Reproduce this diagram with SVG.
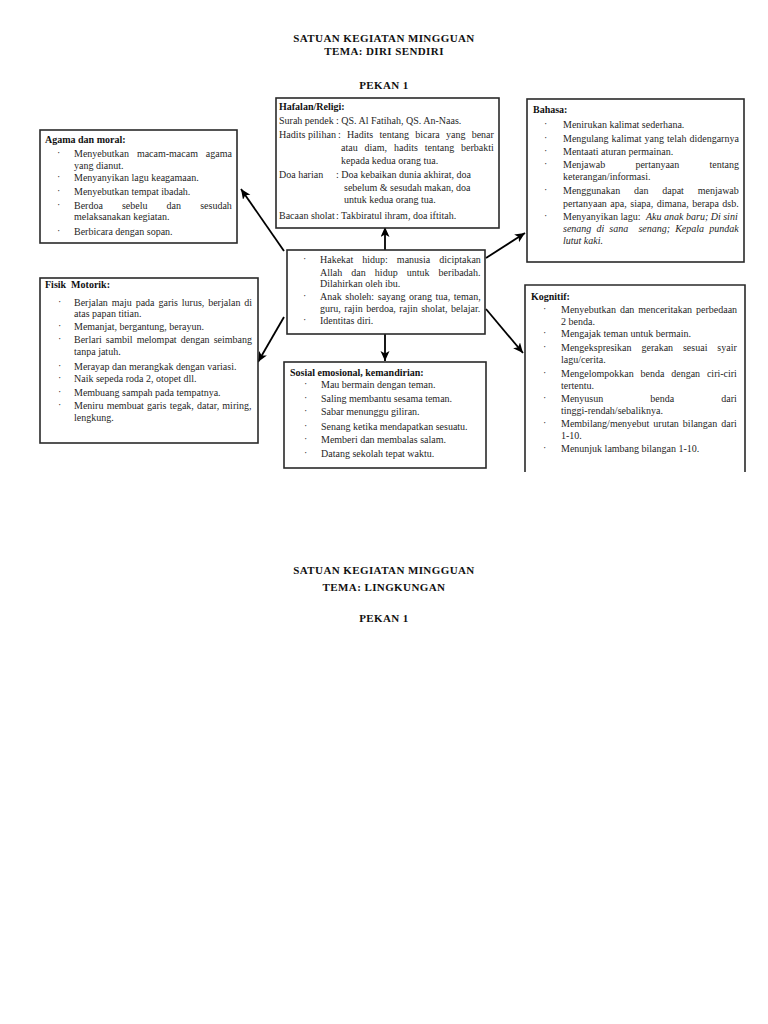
<svg xmlns="http://www.w3.org/2000/svg" width="768" height="1024" viewBox="0 0 768 1024">
<style>
.t{font-family:"Liberation Serif","Times New Roman",serif;font-size:10px;fill:#1f1f1f}
.i{font-style:italic}
.b{font-family:"Liberation Serif","Times New Roman",serif;font-size:10px;font-weight:bold;fill:#111}
.h{font-family:"Liberation Serif","Times New Roman",serif;font-size:11px;font-weight:bold;fill:#111;text-anchor:middle;letter-spacing:0.4px}
.box{fill:#fff;stroke:#2a2a2a;stroke-width:1.6}
.c{stroke:#000;stroke-width:1.8;fill:none}
</style>
<defs>
<marker id="ah" markerUnits="userSpaceOnUse" markerWidth="12" markerHeight="10" refX="10" refY="4.5" orient="auto">
<path d="M0,0 L10,4.5 L0,9 L2.5,4.5 z" fill="#000"/>
</marker>
</defs>
<rect width="768" height="1024" fill="#fff"/>

<g id="titles">
<text class="h" x="384" y="42">SATUAN KEGIATAN MINGGUAN</text>
<text class="h" x="384" y="55">TEMA: DIRI SENDIRI</text>
<text class="h" x="384" y="89">PEKAN 1</text>
<text class="h" x="384" y="574">SATUAN KEGIATAN MINGGUAN</text>
<text class="h" x="384" y="591">TEMA: LINGKUNGAN</text>
<text class="h" x="384" y="622">PEKAN 1</text>
</g>

<g id="connectors">
<line class="c" x1="385" y1="250" x2="385" y2="227" marker-end="url(#ah)"/>
<line class="c" x1="385" y1="334" x2="385" y2="361" marker-end="url(#ah)"/>
<line class="c" x1="284" y1="251" x2="241" y2="189" marker-end="url(#ah)"/>
<line class="c" x1="284" y1="317" x2="258" y2="362" marker-end="url(#ah)"/>
<line class="c" x1="486" y1="258" x2="525" y2="233" marker-end="url(#ah)"/>
<line class="c" x1="486" y1="309" x2="523" y2="353" marker-end="url(#ah)"/>
</g>

<g id="hafalan">
<rect class="box" x="276" y="98" width="223" height="130"/>
<text class="b" x="279" y="110">Hafalan/Religi:</text>
<text class="t" x="279" y="124">Surah pendek</text>
<text class="t" x="336" y="124">: QS. Al Fatihah, QS. An-Naas.</text>
<text class="t" x="279" y="138" textLength="57" lengthAdjust="spacingAndGlyphs">Hadits pilihan</text>
<text class="t" x="338" y="138" style="word-spacing:3.8px">: Hadits tentang bicara yang benar</text>
<text class="t" x="341" y="151" style="word-spacing:4.4px">atau diam, hadits tentang berbakti</text>
<text class="t" x="341" y="164">kepada kedua orang tua.</text>
<text class="t" x="279" y="178">Doa harian</text>
<text class="t" x="336" y="178">: Doa kebaikan dunia akhirat, doa</text>
<text class="t" x="344" y="191">sebelum &amp; sesudah makan, doa</text>
<text class="t" x="344" y="203">untuk kedua orang tua.</text>
<text class="t" x="279" y="219">Bacaan sholat</text>
<text class="t" x="336" y="219">: Takbiratul ihram, doa iftitah.</text>
</g>

<g id="agama">
<rect class="box" x="40" y="130" width="197" height="113"/>
<text class="b" x="45" y="143">Agama dan moral:</text>
<text class="t" x="57" y="156">·</text>
<text class="t" x="74" y="157" style="word-spacing:5.4px">Menyebutkan macam-macam agama</text>
<text class="t" x="74" y="169">yang dianut.</text>
<text class="t" x="57" y="180">·</text>
<text class="t" x="74" y="181">Menyanyikan lagu keagamaan.</text>
<text class="t" x="57" y="194">·</text>
<text class="t" x="74" y="195">Menyebutkan tempat ibadah.</text>
<text class="t" x="57" y="208">·</text>
<text class="t" x="74" y="209" style="word-spacing:16.6px">Berdoa sebelu dan sesudah</text>
<text class="t" x="74" y="220">melaksanakan kegiatan.</text>
<text class="t" x="57" y="234">·</text>
<text class="t" x="74" y="235">Berbicara dengan sopan.</text>
</g>

<g id="bahasa">
<rect class="box" x="527" y="99" width="217" height="163"/>
<text class="b" x="533" y="113">Bahasa:</text>
<text class="t" x="544" y="127">·</text>
<text class="t" x="563" y="128">Menirukan kalimat sederhana.</text>
<text class="t" x="544" y="141">·</text>
<text class="t" x="563" y="142" style="word-spacing:0.5px">Mengulang kalimat yang telah didengarnya</text>
<text class="t" x="544" y="154">·</text>
<text class="t" x="563" y="155">Mentaati aturan permainan.</text>
<text class="t" x="544" y="167">·</text>
<text class="t" x="563" y="168" style="word-spacing:27.7px">Menjawab pertanyaan tentang</text>
<text class="t" x="563" y="180">keterangan/informasi.</text>
<text class="t" x="544" y="193">·</text>
<text class="t" x="563" y="194" style="word-spacing:11.3px">Menggunakan dan dapat menjawab</text>
<text class="t" x="563" y="207" style="word-spacing:1px">pertanyaan apa, siapa, dimana, berapa dsb.</text>
<text class="t" x="544" y="219">·</text>
<text class="t" x="563" y="220">Menyanyikan lagu:</text>
<text class="t i" x="646" y="220">Aku anak baru; Di sini</text>
<text class="t i" x="563" y="232" xml:space="preserve" style="word-spacing:2.6px">senang di sana  senang; Kepala pundak</text>
<text class="t i" x="563" y="244">lutut kaki.</text>
</g>

<g id="hakekat">
<rect class="box" x="287" y="250" width="198" height="84"/>
<text class="t" x="303" y="262">·</text>
<text class="t" x="320" y="263" style="word-spacing:6.5px">Hakekat hidup: manusia diciptakan</text>
<text class="t" x="320" y="276" style="word-spacing:6.6px">Allah dan hidup untuk beribadah.</text>
<text class="t" x="320" y="287">Dilahirkan oleh ibu.</text>
<text class="t" x="303" y="299">·</text>
<text class="t" x="320" y="300" style="word-spacing:1.1px">Anak sholeh: sayang orang tua, teman,</text>
<text class="t" x="320" y="312" style="word-spacing:1px">guru, rajin berdoa, rajin sholat, belajar.</text>
<text class="t" x="303" y="323">·</text>
<text class="t" x="320" y="324">Identitas diri.</text>
</g>

<g id="fisik">
<rect class="box" x="40" y="278" width="218" height="165"/>
<text class="b" x="45" y="288" xml:space="preserve">Fisik  Motorik:</text>
<text class="t" x="58" y="305">·</text>
<text class="t" x="74" y="306" style="word-spacing:1.4px">Berjalan maju pada garis lurus, berjalan di</text>
<text class="t" x="74" y="317">atas papan titian.</text>
<text class="t" x="58" y="329">·</text>
<text class="t" x="74" y="330">Memanjat, bergantung, berayun.</text>
<text class="t" x="58" y="342">·</text>
<text class="t" x="74" y="343" style="word-spacing:1.6px">Berlari sambil melompat dengan seimbang</text>
<text class="t" x="74" y="355">tanpa jatuh.</text>
<text class="t" x="58" y="369">·</text>
<text class="t" x="74" y="370">Merayap dan merangkak dengan variasi.</text>
<text class="t" x="58" y="381">·</text>
<text class="t" x="74" y="382">Naik sepeda roda 2, otopet dll.</text>
<text class="t" x="58" y="395">·</text>
<text class="t" x="74" y="396">Membuang sampah pada tempatnya.</text>
<text class="t" x="58" y="408">·</text>
<text class="t" x="74" y="409" style="word-spacing:0.7px">Meniru membuat garis tegak, datar, miring,</text>
<text class="t" x="74" y="421">lengkung.</text>
</g>

<g id="sosial">
<rect class="box" x="284" y="362" width="202" height="106"/>
<text class="b" x="290" y="376">Sosial emosional, kemandirian:</text>
<text class="t" x="304" y="387">·</text>
<text class="t" x="321" y="388">Mau bermain dengan teman.</text>
<text class="t" x="304" y="401">·</text>
<text class="t" x="321" y="402">Saling membantu sesama teman.</text>
<text class="t" x="304" y="414">·</text>
<text class="t" x="321" y="415">Sabar menunggu giliran.</text>
<text class="t" x="304" y="429">·</text>
<text class="t" x="321" y="430">Senang ketika mendapatkan sesuatu.</text>
<text class="t" x="304" y="442">·</text>
<text class="t" x="321" y="443">Memberi dan membalas salam.</text>
<text class="t" x="304" y="456">·</text>
<text class="t" x="321" y="457">Datang sekolah tepat waktu.</text>
</g>

<g id="kognitif">
<path d="M525,472 V285 H745 V472" fill="#fff" stroke="#2a2a2a" stroke-width="1.6"/>
<text class="b" x="531" y="300">Kognitif:</text>
<text class="t" x="543" y="312">·</text>
<text class="t" x="561" y="313" style="word-spacing:1.4px">Menyebutkan dan menceritakan perbedaan</text>
<text class="t" x="561" y="325">2 benda.</text>
<text class="t" x="543" y="336">·</text>
<text class="t" x="561" y="337">Mengajak teman untuk bermain.</text>
<text class="t" x="543" y="350">·</text>
<text class="t" x="561" y="351" style="word-spacing:7.4px">Mengekspresikan gerakan sesuai syair</text>
<text class="t" x="561" y="363">lagu/cerita.</text>
<text class="t" x="543" y="376">·</text>
<text class="t" x="561" y="377" style="word-spacing:4.3px">Mengelompokkan benda dengan ciri-ciri</text>
<text class="t" x="561" y="389">tertentu.</text>
<text class="t" x="543" y="401">·</text>
<text class="t" x="561" y="402" style="word-spacing:44.6px">Menyusun benda dari</text>
<text class="t" x="561" y="414">tinggi-rendah/sebaliknya.</text>
<text class="t" x="543" y="426">·</text>
<text class="t" x="561" y="427" style="word-spacing:1.5px">Membilang/menyebut urutan bilangan dari</text>
<text class="t" x="561" y="439">1-10.</text>
<text class="t" x="543" y="451">·</text>
<text class="t" x="561" y="452">Menunjuk lambang bilangan 1-10.</text>
</g>
</svg>
